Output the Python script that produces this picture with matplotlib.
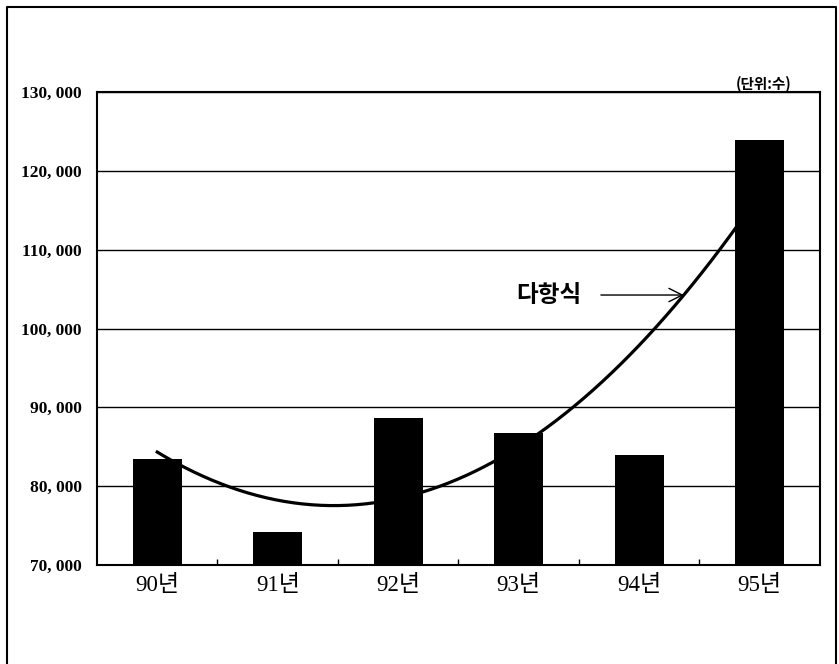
import numpy as np
import matplotlib.pyplot as plt
from matplotlib.lines import Line2D

years = ['90년', '91년', '92년', '93년', '94년', '95년']
counts = [83500, 74200, 88650, 86750, 83950, 123900]
yticks = [70000, 80000, 90000, 100000, 110000, 120000, 130000]

serif = ['Liberation Serif', 'Noto Sans CJK KR']
korean = ['Noto Sans CJK KR', 'DejaVu Sans']

fig = plt.figure(figsize=(8.39, 6.64), dpi=100)
ax = fig.add_axes([0.1156, 0.1491, 0.8617, 0.7123])

x = np.arange(len(years))
# Excel style polynomial trendline (order 2), drawn behind the bars
coef = np.polyfit(x, counts, 2)
xs = np.linspace(0, len(years) - 1, 200)
ax.plot(xs, np.polyval(coef, xs), color='black', lw=2.3, zorder=2)

ax.bar(x, counts, width=0.41, color='black', zorder=3)

ax.set_xlim(-0.5, len(years) - 0.5)
ax.set_ylim(yticks[0], yticks[-1])
ax.set_yticks(yticks)
ax.set_yticklabels(['{:,}'.format(v).replace(',', ', ') for v in yticks],
                   family=serif, fontsize=12.5, fontweight='bold')
ax.set_xticks(x)
ax.set_xticklabels(years, family=serif, fontsize=16.5)
ax.tick_params(axis='x', length=0, pad=7)
ax.tick_params(axis='y', length=0, pad=11)
ax.set_xticks(np.arange(0.5, len(years) - 1, 1), minor=True)
ax.tick_params(axis='x', which='minor', direction='in', length=4, width=1)

ax.yaxis.grid(True, color='black', lw=1)
ax.set_axisbelow(True)
for s in ax.spines.values():
    s.set_linewidth(1.5)

# trendline label with arrow pointing at the curve
xa = 4.37
ya = np.polyval(coef, xa)
ax.annotate('다항식', xy=(xa, ya), xytext=(3.25, ya), va='center', ha='center',
            family=korean, fontsize=17, fontweight='bold',
            arrowprops=dict(arrowstyle='->', lw=1, color='black',
                            shrinkA=12, shrinkB=0, mutation_scale=24))

fig.text(0.943, 0.873, '(단위:수)', ha='right', va='center',
         family=korean, fontsize=10.5, fontweight='bold')

# outer frame (left, top, right)
fig.add_artist(Line2D([0.0083, 0.0083, 0.9964, 0.9964], [0.0, 0.9895, 0.9895, 0.0],
                      color='black', lw=1.5, transform=fig.transFigure))

fig.savefig('out.png', dpi=100)
